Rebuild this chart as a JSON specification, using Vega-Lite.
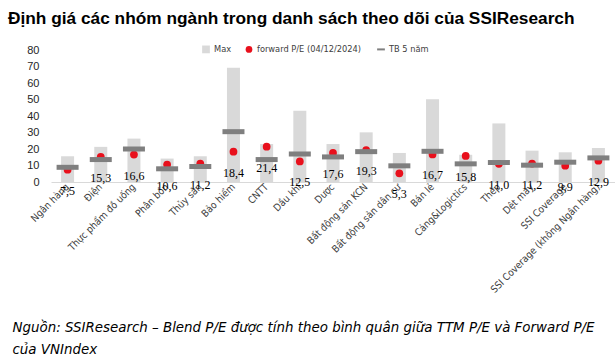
{
  "$schema": "https://vega.github.io/schema/vega-lite/v6.json",
  "autosize": "none",
  "width": 564,
  "height": 132,
  "padding": {"left": 51, "top": 50, "right": 0, "bottom": 182},
  "background": "white",
  "config": {
    "view": {"stroke": null},
    "axisY": {"labelOverlap": false},
    "locale": {"number": {"decimal": ",", "thousands": ".", "grouping": [3], "currency": ["", ""]}}
  },
  "title": {
    "text": "Định giá các nhóm ngành trong danh sách theo dõi của SSIResearch",
    "anchor": "start",
    "frame": "group",
    "dx": -43,
    "offset": 17,
    "font": "Liberation Sans",
    "fontSize": 17.3,
    "fontWeight": "bold",
    "color": "#000000"
  },
  "data": {
    "values": [
      {"cat": "Ngân hàng", "max": 15.6, "fwd": 7.5, "tb": 8.9},
      {"cat": "Điện", "max": 21.3, "fwd": 15.3, "tb": 13.6},
      {"cat": "Thực phẩm đồ uống", "max": 26.3, "fwd": 16.6, "tb": 20.0},
      {"cat": "Phân bón", "max": 14.2, "fwd": 10.6, "tb": 8.0},
      {"cat": "Thủy sản", "max": 15.6, "fwd": 11.2, "tb": 9.4},
      {"cat": "Bảo hiểm", "max": 69.3, "fwd": 18.4, "tb": 30.5},
      {"cat": "CNTT", "max": 23.0, "fwd": 21.4, "tb": 13.6},
      {"cat": "Dầu khí", "max": 43.2, "fwd": 12.5, "tb": 17.0},
      {"cat": "Dược", "max": 23.0, "fwd": 17.6, "tb": 15.2},
      {"cat": "Bất động sản KCN", "max": 30.1, "fwd": 19.3, "tb": 18.4},
      {"cat": "Bất động sản dân cư", "max": 17.6, "fwd": 5.3, "tb": 9.8},
      {"cat": "Bán lẻ", "max": 50.2, "fwd": 16.7, "tb": 18.6},
      {"cat": "Cảng&Logictics", "max": 16.5, "fwd": 15.8, "tb": 11.0},
      {"cat": "Thép", "max": 35.5, "fwd": 11.0, "tb": 11.8},
      {"cat": "Dệt may", "max": 19.0, "fwd": 11.2, "tb": 10.2},
      {"cat": "SSI Coverage", "max": 18.0, "fwd": 9.9, "tb": 12.0},
      {"cat": "SSI Coverage (không Ngân hàng)", "max": 20.6, "fwd": 12.9, "tb": 14.6}
    ]
  },
  "encoding": {
    "x": {
      "field": "cat",
      "type": "nominal",
      "sort": null,
      "scale": {"paddingInner": 0, "paddingOuter": 0},
      "axis": {
        "title": ["Nguồn: SSIResearch – Blend P/E được tính theo bình quân giữa TTM P/E và Forward P/E", "của VNIndex"],
        "titleFont": "DejaVu Sans Condensed",
        "titleFontStyle": "italic",
        "titleFontWeight": "normal",
        "titleFontSize": 14.9,
        "titleColor": "#000000",
        "titleAnchor": "start",
        "titleAlign": "left",
        "titleBaseline": "top",
        "titleX": -39,
        "titleY": 137,
        "titleLineHeight": 22,
        "domainColor": "#d9d9d9",
        "domainWidth": 1,
        "ticks": false,
        "labelAngle": -45,
        "labelAlign": "right",
        "labelBaseline": "middle",
        "labelPadding": 3,
        "labelFont": "DejaVu Sans Condensed",
        "labelFontSize": 10,
        "labelColor": "#404040",
        "labelOverlap": false,
        "labelLimit": 300
      }
    }
  },
  "layer": [
    {
      "mark": {"type": "bar", "size": 13},
      "encoding": {
        "y": {
          "field": "max",
          "type": "quantitative",
          "scale": {"domain": [0, 80], "nice": false},
          "axis": {
            "title": null,
            "domain": false,
            "ticks": false,
            "grid": false,
            "values": [0, 10, 20, 30, 40, 50, 60, 70, 80],
            "labelOverlap": false,
            "labelPadding": 12,
            "labelFont": "Liberation Sans",
            "labelFontSize": 11,
            "labelColor": "#262626"
          }
        },
        "color": {
          "datum": "Max",
          "type": "nominal",
          "scale": {
            "domain": ["Max", "forward P/E (04/12/2024)", "TB 5 năm"],
            "range": ["#d9d9d9", "#e8101c", "#7f7f7f"]
          },
          "legend": {
            "title": null,
            "orient": "none",
            "direction": "horizontal",
            "legendX": 150,
            "legendY": -6,
            "columnPadding": 12,
            "symbolOffset": 0,
            "labelFont": "DejaVu Sans Condensed",
            "labelFontSize": 9.2,
            "labelColor": "#404040",
            "labelOffset": 3,
            "symbolOpacity": 1,
            "encode": {
              "symbols": {
                "update": {
                  "shape": {"signal": "datum.value === 'Max' ? 'square' : datum.value === 'TB 5 năm' ? 'stroke' : 'circle'"},
                  "stroke": {"signal": "datum.value === 'TB 5 năm' ? '#7f7f7f' : null"},
                  "strokeWidth": {"value": 2},
                  "size": {"signal": "datum.value === 'forward P/E (04/12/2024)' ? 45 : 60"}
                }
              }
            }
          }
        }
      }
    },
    {
      "mark": {"type": "point", "filled": true, "opacity": 1, "size": 60},
      "encoding": {
        "y": {
          "field": "fwd",
          "type": "quantitative",
          "axis": {
            "title": null,
            "domain": false,
            "ticks": false,
            "grid": false,
            "values": [0, 10, 20, 30, 40, 50, 60, 70, 80],
            "labelOverlap": false,
            "labelPadding": 12,
            "labelFont": "Liberation Sans",
            "labelFontSize": 11,
            "labelColor": "#262626"
          }
        },
        "color": {"datum": "forward P/E (04/12/2024)", "type": "nominal"}
      }
    },
    {
      "mark": {"type": "tick", "orient": "horizontal", "size": 22, "thickness": 5, "opacity": 1},
      "encoding": {
        "y": {
          "field": "tb",
          "type": "quantitative",
          "axis": {
            "title": null,
            "domain": false,
            "ticks": false,
            "grid": false,
            "values": [0, 10, 20, 30, 40, 50, 60, 70, 80],
            "labelOverlap": false,
            "labelPadding": 12,
            "labelFont": "Liberation Sans",
            "labelFontSize": 11,
            "labelColor": "#262626"
          }
        },
        "color": {"datum": "TB 5 năm", "type": "nominal"}
      }
    },
    {
      "mark": {"type": "text", "dy": 21, "font": "Liberation Sans Narrow", "fontSize": 12, "color": "#000000"},
      "encoding": {
        "y": {
          "field": "fwd",
          "type": "quantitative",
          "axis": {
            "title": null,
            "domain": false,
            "ticks": false,
            "grid": false,
            "values": [0, 10, 20, 30, 40, 50, 60, 70, 80],
            "labelOverlap": false,
            "labelPadding": 12,
            "labelFont": "Liberation Sans",
            "labelFontSize": 11,
            "labelColor": "#262626"
          }
        },
        "text": {"field": "fwd", "type": "quantitative", "format": ".1f"}
      }
    }
  ]
}
